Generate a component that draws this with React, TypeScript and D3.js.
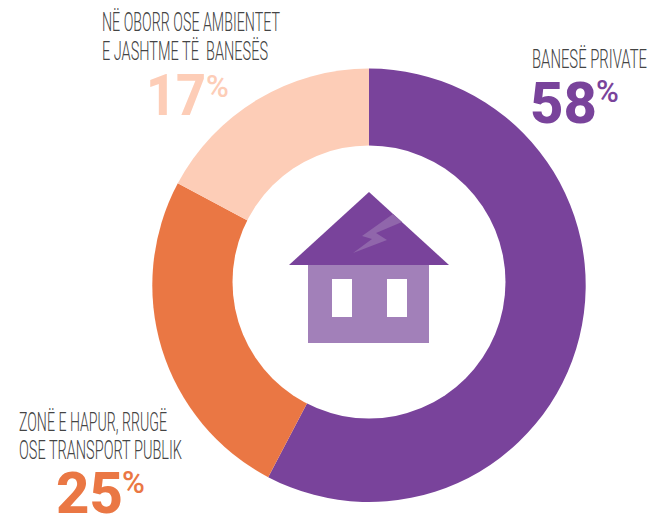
import React from "react";
import * as d3 from "d3";

const categories = ["BANESË PRIVATE", "ZONË E HAPUR, RRUGË|OSE TRANSPORT PUBLIK", "NË OBORR OSE AMBIENTET|E JASHTME TË  BANESËS"];
// slice sizes, labels show them rounded
const values = [57.7, 25.1, 17.2];
const colors = ["#79439b", "#ea7744", "#fdcdb7"];

const width = 648;
const height = 516;
const cx = 369;
const cy = 285.3;
const outerR = 216.7;
// the hole sits a little higher than the ring's centre in the original
const holeR = 136.5;
const holeCy = 282;

// label placement per slice: widths are per line because the original font is very condensed
const labelPos = [
  { x: 532, lines: [{ y: 68, w: 115 }], numX: 530, numY: 123, numW: 67, pctX: 596, pctY: 102 },
  { x: 19, lines: [{ y: 431, w: 148 }, { y: 459, w: 163 }], numX: 56, numY: 513, numW: 67, pctX: 122, pctY: 493 },
  { x: 102, lines: [{ y: 31, w: 178 }, { y: 60, w: 166 }], numX: 146, numY: 115, numW: 60, pctX: 206, pctY: 96.5 },
];

const pie = d3.pie<number>().sort(null).value((d) => d);
const arc = d3.arc<d3.PieArcDatum<number>>().innerRadius(0).outerRadius(outerR);

const App = () => {
  const arcs = pie(values);
  const pt = (pts: number[][]) => pts.map((p) => p.join(",")).join(" ");
  return (
    <svg
      width={width}
      height={height}
      style={{ position: "fixed", left: 0, top: 0, background: "#fff" }}
    >
      <g transform={`translate(${cx},${cy})`}>
        {arcs.map((d, i) => (
          <path key={i} d={arc(d) || ""} fill={colors[i]} />
        ))}
      </g>
      <circle cx={cx} cy={holeCy} r={holeR} fill="#fff" />

      {/* house */}
      <rect x={308} y={265} width={121} height={78} fill="#a280b9" />
      <rect x={332} y={279} width={20} height={38} fill="#fff" />
      <rect x={387} y={279} width={20} height={38} fill="#fff" />
      <polygon points={pt([[369, 192], [449, 265], [289, 265]])} fill="#79439b" />
      <polygon
        points={pt([[393, 214], [402, 222], [376, 233], [387, 240], [353, 253], [372, 239], [362, 236]])}
        fill="#9066ab"
      />

      {categories.map((c, i) => {
        const pos = labelPos[i];
        return (
          <g key={i} fontFamily="Roboto, sans-serif">
            {c.split("|").map((line, j) => (
              <text
                key={j}
                x={pos.x}
                y={pos.lines[j].y}
                fontSize={25}
                fontWeight={350}
                fill="#444"
                textLength={pos.lines[j].w}
                lengthAdjust="spacingAndGlyphs"
                xmlSpace="preserve"
              >
                {line}
              </text>
            ))}
            <text
              x={pos.numX}
              y={pos.numY}
              fontSize={58}
              fontWeight={800}
              fill={colors[i]}
              textLength={pos.numW}
              lengthAdjust="spacingAndGlyphs"
            >
              {Math.round(values[i])}
            </text>
            <text x={pos.pctX} y={pos.pctY} fontSize={31} fontWeight={500} fill={colors[i]}>
              %
            </text>
          </g>
        );
      })}
    </svg>
  );
};

export default App;
